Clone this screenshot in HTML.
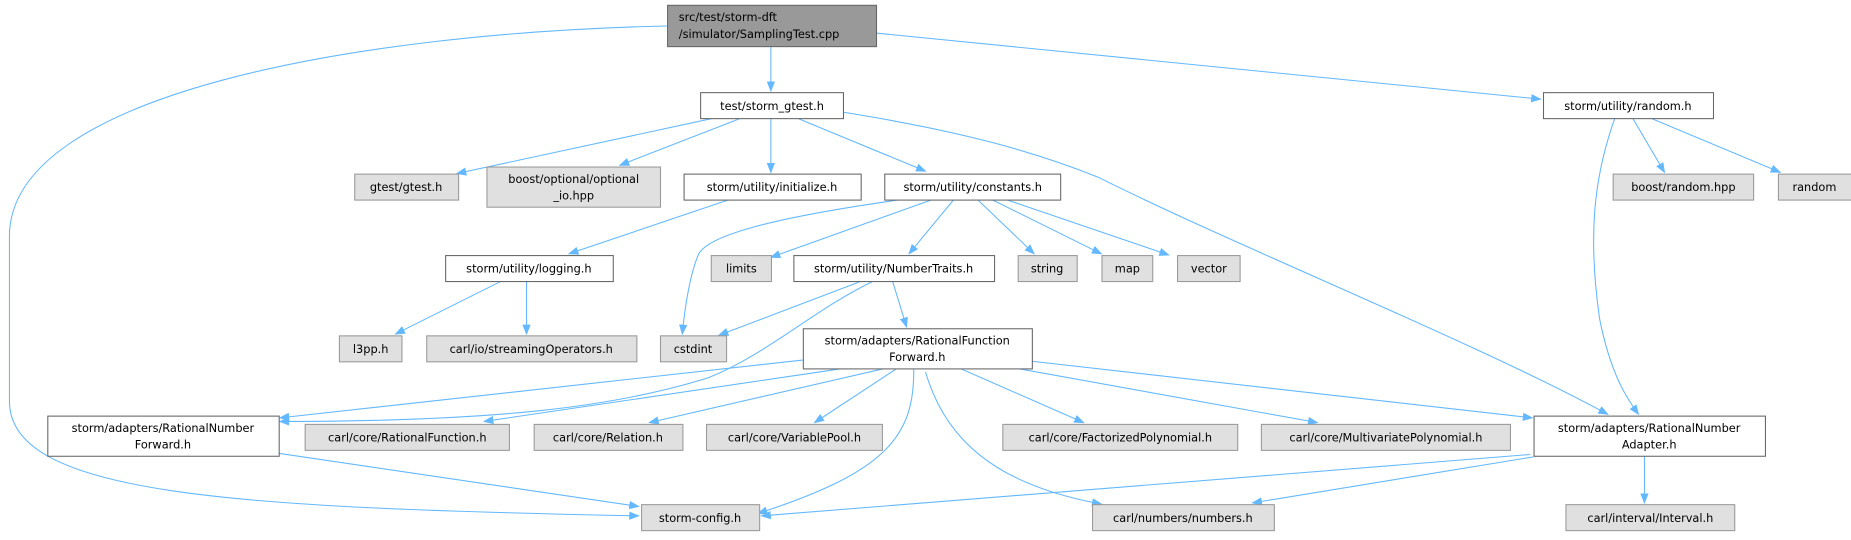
<!DOCTYPE html>
<html><head><meta charset="utf-8"><style>
html,body{margin:0;padding:0;background:#fff;}
svg text{font-family:"DejaVu Sans","Liberation Sans",sans-serif;font-size:9.6px;fill:#000;}
</style></head><body>
<svg width="1851" height="535" viewBox="0 0 1851 535" xmlns="http://www.w3.org/2000/svg">
<defs><marker id="a" markerWidth="9" markerHeight="7" refX="8" refY="3.5" orient="auto" markerUnits="userSpaceOnUse"><path d="M0,0 L9,3.5 L0,7 z" fill="#63b8ff"/></marker></defs>
<g transform="scale(1.1805)">
<g fill="none" stroke="#63b8ff" stroke-width="0.9" marker-end="url(#a)">
<path d="M653,39 L653,77"/>
<path d="M742,28 L1305,84"/>
<path d="M565,22 C300,28 8,80 8,200 L8,340 C8,420 200,430 541,437"/>
<path d="M605,100 L387,147"/>
<path d="M628,100 L525,140"/>
<path d="M653,100 L653,146"/>
<path d="M675,100 L784,145"/>
<path d="M714,95 C820,112 880,130 930,150 C1050,210 1250,290 1362,351"/>
<path d="M1368,100 C1350,150 1345,200 1355,270 C1365,320 1380,340 1388,351"/>
<path d="M1383,100 L1410,146"/>
<path d="M1398,100 L1508,146"/>
<path d="M618,169 L482,215"/>
<path d="M764,169 C650,185 600,200 592,215 C585,230 580,260 578,283"/>
<path d="M790,169 L653,218"/>
<path d="M808,169 L770,215"/>
<path d="M828,169 L876,215"/>
<path d="M840,169 L933,215"/>
<path d="M852,169 L990,216"/>
<path d="M425,238 L335,283"/>
<path d="M446,238 L446,283"/>
<path d="M730,238 L609,284"/>
<path d="M740,238 C690,262 650,300 600,320 C520,345 420,357 237,357"/>
<path d="M756,238 L768,277"/>
<path d="M680,305 L237,354"/>
<path d="M715,312 L410,357"/>
<path d="M750,312 L550,358"/>
<path d="M760,312 L690,358"/>
<path d="M774,312 C775,370 750,400 642,435"/>
<path d="M784,315 C800,370 840,410 933,427"/>
<path d="M813,312 L918,358"/>
<path d="M861,312 L1116,358"/>
<path d="M874,306 L1298,354"/>
<path d="M236,384 L541,429"/>
<path d="M1296,385 L645,437"/>
<path d="M1299,387 L1061,426"/>
<path d="M1393,386 L1393,426"/>
</g>
<g stroke-width="0.9">
<rect x="565.5" y="4.5" width="177" height="35" fill="#999" stroke="#666"/>
<text x="575" y="18">src/test/storm-dft</text><text x="575" y="32">/simulator/SamplingTest.cpp</text>
<rect x="593.5" y="78.5" width="121" height="22" fill="#fff" stroke="#666"/><text x="654" y="93" text-anchor="middle">test/storm_gtest.h</text>
<rect x="1307.5" y="78.5" width="144" height="22" fill="#fff" stroke="#666"/><text x="1379" y="93" text-anchor="middle">storm/utility/random.h</text>
<rect x="300.5" y="147.5" width="88" height="22" fill="#e0e0e0" stroke="#999"/><text x="344" y="162" text-anchor="middle">gtest/gtest.h</text>
<rect x="412.5" y="141.5" width="147" height="34" fill="#e0e0e0" stroke="#999"/><text x="486" y="155" text-anchor="middle">boost/optional/optional</text><text x="486" y="169" text-anchor="middle">_io.hpp</text>
<rect x="579.5" y="147.5" width="150" height="22" fill="#fff" stroke="#666"/><text x="654" y="162" text-anchor="middle">storm/utility/initialize.h</text>
<rect x="749.5" y="147.5" width="149" height="22" fill="#fff" stroke="#666"/><text x="824" y="162" text-anchor="middle">storm/utility/constants.h</text>
<rect x="1366.5" y="147.5" width="119" height="22" fill="#e0e0e0" stroke="#999"/><text x="1426" y="162" text-anchor="middle">boost/random.hpp</text>
<rect x="1506.5" y="147.5" width="62" height="22" fill="#e0e0e0" stroke="#999"/><text x="1537" y="162" text-anchor="middle">random</text>
<rect x="377.5" y="216.5" width="142" height="22" fill="#fff" stroke="#666"/><text x="448" y="231" text-anchor="middle">storm/utility/logging.h</text>
<rect x="602.5" y="216.5" width="51" height="22" fill="#e0e0e0" stroke="#999"/><text x="628" y="231" text-anchor="middle">limits</text>
<rect x="672.5" y="216.5" width="170" height="22" fill="#fff" stroke="#666"/><text x="757" y="231" text-anchor="middle">storm/utility/NumberTraits.h</text>
<rect x="862.5" y="216.5" width="50" height="22" fill="#e0e0e0" stroke="#999"/><text x="887" y="231" text-anchor="middle">string</text>
<rect x="933.5" y="216.5" width="43" height="22" fill="#e0e0e0" stroke="#999"/><text x="955" y="231" text-anchor="middle">map</text>
<rect x="997.5" y="216.5" width="53" height="22" fill="#e0e0e0" stroke="#999"/><text x="1024" y="231" text-anchor="middle">vector</text>
<rect x="287.5" y="284.5" width="53" height="22" fill="#e0e0e0" stroke="#999"/><text x="314" y="299" text-anchor="middle">l3pp.h</text>
<rect x="361.5" y="284.5" width="178" height="22" fill="#e0e0e0" stroke="#999"/><text x="450" y="299" text-anchor="middle">carl/io/streamingOperators.h</text>
<rect x="559.5" y="284.5" width="56" height="22" fill="#e0e0e0" stroke="#999"/><text x="587" y="299" text-anchor="middle">cstdint</text>
<rect x="680.5" y="278.5" width="194" height="34" fill="#fff" stroke="#666"/><text x="777" y="292" text-anchor="middle">storm/adapters/RationalFunction</text><text x="777" y="306" text-anchor="middle">Forward.h</text>
<rect x="40.5" y="352.5" width="196" height="34" fill="#fff" stroke="#666"/><text x="138" y="366" text-anchor="middle">storm/adapters/RationalNumber</text><text x="138" y="380" text-anchor="middle">Forward.h</text>
<rect x="258.5" y="359.5" width="173" height="22" fill="#e0e0e0" stroke="#999"/><text x="345" y="374" text-anchor="middle">carl/core/RationalFunction.h</text>
<rect x="452.5" y="359.5" width="126" height="22" fill="#e0e0e0" stroke="#999"/><text x="515" y="374" text-anchor="middle">carl/core/Relation.h</text>
<rect x="598.5" y="359.5" width="149" height="22" fill="#e0e0e0" stroke="#999"/><text x="673" y="374" text-anchor="middle">carl/core/VariablePool.h</text>
<rect x="849.5" y="359.5" width="199" height="22" fill="#e0e0e0" stroke="#999"/><text x="949" y="374" text-anchor="middle">carl/core/FactorizedPolynomial.h</text>
<rect x="1068.5" y="359.5" width="211" height="22" fill="#e0e0e0" stroke="#999"/><text x="1174" y="374" text-anchor="middle">carl/core/MultivariatePolynomial.h</text>
<rect x="1299.5" y="352.5" width="196" height="34" fill="#fff" stroke="#666"/><text x="1397" y="366" text-anchor="middle">storm/adapters/RationalNumber</text><text x="1397" y="380" text-anchor="middle">Adapter.h</text>
<rect x="543.5" y="427.5" width="100" height="22" fill="#e0e0e0" stroke="#999"/><text x="593" y="442" text-anchor="middle">storm-config.h</text>
<rect x="925.5" y="427.5" width="154" height="22" fill="#e0e0e0" stroke="#999"/><text x="1002" y="442" text-anchor="middle">carl/numbers/numbers.h</text>
<rect x="1326.5" y="427.5" width="143" height="22" fill="#e0e0e0" stroke="#999"/><text x="1398" y="442" text-anchor="middle">carl/interval/Interval.h</text>
</g>
</g>
</svg>
</body></html>
